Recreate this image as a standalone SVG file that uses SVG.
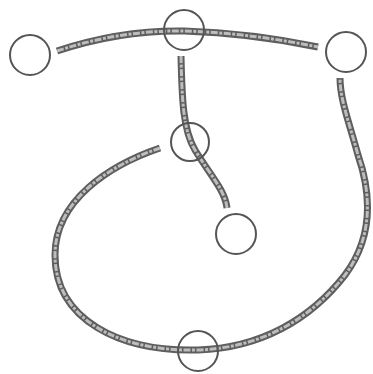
<svg xmlns="http://www.w3.org/2000/svg" width="373" height="374" viewBox="0 0 373 374">
<style>
.tube{fill:none;stroke:#5e5e5e;stroke-width:7;stroke-linecap:butt}
.core{fill:none;stroke:#bdbdbd;stroke-width:3;stroke-linecap:butt;stroke-dasharray:7 1.5 3 1.5}
.node{fill:none;stroke:#555;stroke-width:2}
</style>
<rect width="373" height="374" fill="#fff"/>
<g id="connectors">
<path class="tube" d="M57,51 Q120,30 184,31 Q250,33 318,47"/>
<path class="core" d="M57,51 Q120,30 184,31 Q250,33 318,47"/>
<path class="tube" d="M181,56 C182,100 183,130 195,150 C210,175 225,190 227,208"/>
<path class="core" d="M181,56 C182,100 183,130 195,150 C210,175 225,190 227,208"/>
<path class="tube" d="M160,148 C110,165 55,200 55,255 C55,320 120,352 198,350 C260,348 310,320 345,275 C375,235 370,190 358,155 C350,125 340,100 340,78"/>
<path class="core" d="M160,148 C110,165 55,200 55,255 C55,320 120,352 198,350 C260,348 310,320 345,275 C375,235 370,190 358,155 C350,125 340,100 340,78"/>
</g>
<g id="n1"><circle class="node" cx="30" cy="55" r="20"/></g>
<g id="n2"><circle class="node" cx="184" cy="30" r="20"/></g>
<g id="n3"><circle class="node" cx="346" cy="52" r="20"/></g>
<g id="n4"><circle class="node" cx="190" cy="142" r="19"/></g>
<g id="n5"><circle class="node" cx="236" cy="234" r="20"/></g>
<g id="n6"><circle class="node" cx="198" cy="351" r="20"/></g>
</svg>
